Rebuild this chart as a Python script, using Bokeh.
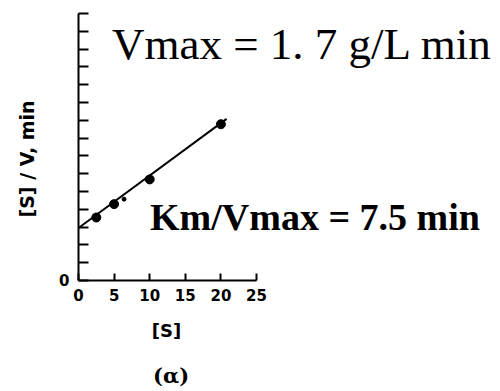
import math

from bokeh.embed import file_html
from bokeh.models import FixedTicker, Label, Range1d
from bokeh.plotting import figure
from bokeh.resources import INLINE

# Hanes-Woolf plot: [S]/V against [S]
s_conc = [2.5, 5, 10, 20]
s_over_v = [0.354, 0.429, 0.568, 0.878]
extra_s = [6.4]
extra_sv = [0.457]

# fitted straight line, read at its two ends
fit_s = [0, 20.8]
fit_sv = [0.295, 0.908]

x_ticks = [0, 5, 10, 15, 20, 25]
y_major = [0]
y_minor = [0.1, 0.2, 0.3, 0.4, 0.5, 0.6, 0.7, 0.8, 0.9, 1.0, 1.1, 1.2, 1.3, 1.4, 1.5]

x_title = "[S]"
y_title = "[S] / V, min"
vmax_text = "Vmax = 1. 7 g/L min"
km_text = "Km/Vmax = 7.5 min"
panel_tag = "(\u03b1)"

# The frame fills the whole canvas; the axes sit at the data origin and are
# bounded to the plotted span, so the annotations around them stay visible.
p = figure(
    width=500, height=391,
    output_backend="svg", toolbar_location=None,
    x_range=Range1d(-10.955, 59.27), y_range=Range1d(-0.6236, 1.573),
    min_border=0,
)
p.outline_line_color = None
p.grid.visible = False
p.background_fill_color = "white"
p.border_fill_color = "white"

xa = p.xaxis[0]
xa.fixed_location = 0
xa.bounds = (0, 25)
xa.ticker = FixedTicker(ticks=x_ticks)
xa.major_tick_in = 7
xa.major_tick_out = 0
xa.minor_tick_line_color = None
xa.axis_line_width = 2
xa.major_tick_line_width = 2
xa.axis_line_color = "black"
xa.major_tick_line_color = "black"
xa.major_label_text_font = "DejaVu Sans"
xa.major_label_text_font_style = "bold"
xa.major_label_text_font_size = "15px"
xa.major_label_text_color = "black"
xa.major_label_standoff = 9

ya = p.yaxis[0]
ya.fixed_location = 0
ya.bounds = (0, 1.5)
ya.ticker = FixedTicker(ticks=y_major, minor_ticks=y_minor)
ya.major_tick_in = 10
ya.major_tick_out = 0
ya.minor_tick_in = 10
ya.minor_tick_out = 0
ya.axis_line_width = 2
ya.major_tick_line_width = 2
ya.minor_tick_line_width = 2
ya.axis_line_color = "black"
ya.major_tick_line_color = "black"
ya.minor_tick_line_color = "black"
ya.major_label_text_font = "DejaVu Sans"
ya.major_label_text_font_style = "bold"
ya.major_label_text_font_size = "15px"
ya.major_label_text_color = "black"
ya.major_label_standoff = 9

# fitted line and measured points
p.line(fit_s, fit_sv, line_color="black", line_width=2)
p.scatter(s_conc, s_over_v, size=9, fill_color="black", line_color="black")
p.scatter(extra_s, extra_sv, size=4, fill_color="black", line_color="black")

# axis titles
p.add_layout(Label(
    x=12.36, y=-0.281, text=x_title,
    text_align="center", text_baseline="middle",
    text_font="DejaVu Sans", text_font_style="bold",
    text_font_size="18px", text_color="black",
))
p.add_layout(Label(
    x=-7.3, y=0.683, text=y_title, angle=math.pi / 2,
    text_align="center", text_baseline="middle",
    text_font="DejaVu Sans", text_font_style="bold",
    text_font_size="19px", text_color="black",
))

# kinetic constants
p.add_layout(Label(
    x=4.7, y=1.326, text=vmax_text,
    text_align="left", text_baseline="alphabetic",
    text_font="Liberation Serif", text_font_size="45px", text_color="black",
))
p.add_layout(Label(
    x=10.05, y=0.354, text=km_text,
    text_align="left", text_baseline="alphabetic",
    text_font="Liberation Serif", text_font_style="bold",
    text_font_size="38px", text_color="black",
))

# panel tag
p.add_layout(Label(
    x=13.0, y=-0.534, text=panel_tag,
    text_align="center", text_baseline="middle",
    text_font="DejaVu Serif", text_font_style="bold",
    text_font_size="21px", text_color="black",
))

open("out.html", "w").write(file_html(p, INLINE))
